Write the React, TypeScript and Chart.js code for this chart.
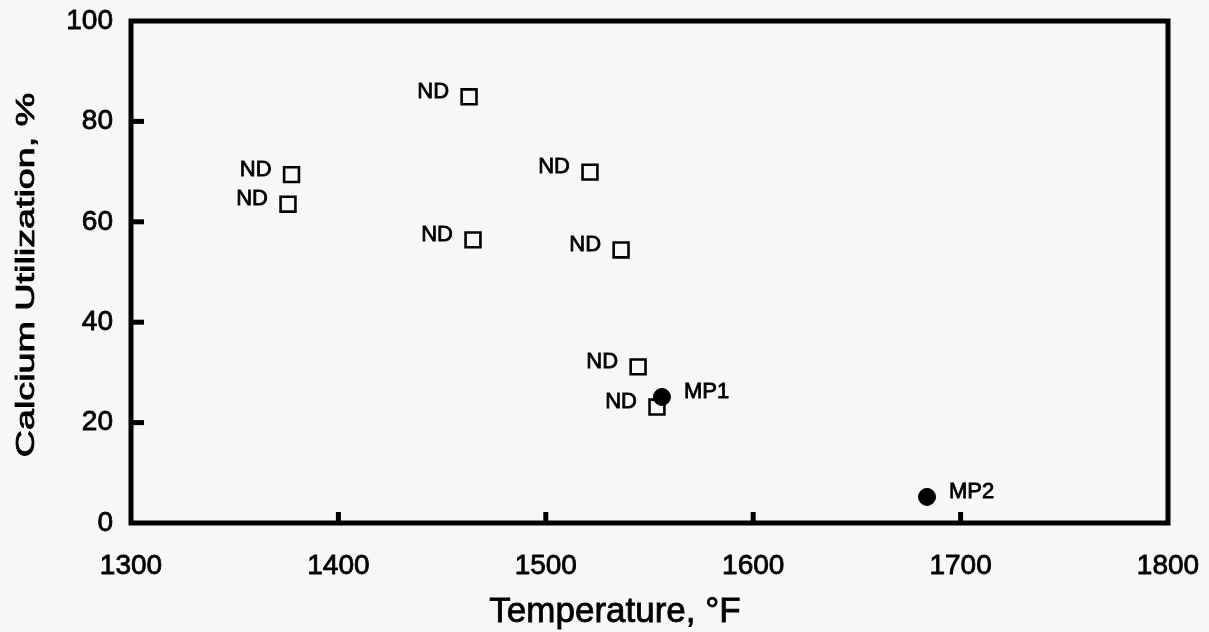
import React, { useEffect, useRef } from "react";
import { Chart, registerables } from "chart.js";

Chart.register(...registerables);

// ---- Data ----
const ndTemps = [1377.4, 1375.7, 1463, 1521.3, 1464.9, 1536.3, 1544.5, 1553.6];
const ndUtil = [69.4, 63.5, 84.9, 69.9, 56.4, 54.4, 31.1, 23.1];
const ndLabels = ["ND", "ND", "ND", "ND", "ND", "ND", "ND", "ND"];
const mpTemps = [1556, 1683.8];
const mpUtil = [25.1, 5.2];
const mpLabels = ["MP1", "MP2"];
const xTicks = [1300, 1400, 1500, 1600, 1700, 1800];
const yTicks = [0, 20, 40, 60, 80, 100];
const xTitle = "Temperature, \u00B0F";
const yTitle = "Calcium Utilization, %";

const FONT = '"Liberation Sans", Arial, Helvetica, sans-serif';
const BG = "#f7f7f7";
const TEXT_STROKE = 0.8;

function heavyText(ctx: any, text: string, x: number, y: number) {
  ctx.fillText(text, x, y);
  ctx.lineWidth = TEXT_STROKE;
  ctx.strokeStyle = "#000";
  ctx.strokeText(text, x, y);
}

const framePlugin = {
  id: "frameAndText",
  beforeDraw(chart: any) {
    const ctx = chart.ctx;
    ctx.save();
    ctx.fillStyle = BG;
    ctx.fillRect(0, 0, chart.width, chart.height);
    ctx.restore();
  },
  beforeDatasetsDraw(chart: any) {
    const { ctx, chartArea } = chart;
    const { left, right, top, bottom } = chartArea;
    const xs = chart.scales.x;
    const ys = chart.scales.y;
    ctx.save();
    ctx.strokeStyle = "#000";
    ctx.lineWidth = 5;
    ctx.lineJoin = "miter";
    ctx.strokeRect(left, top, right - left, bottom - top);
    // inward ticks
    ctx.lineWidth = 5;
    ctx.lineCap = "butt";
    yTicks.slice(1, -1).forEach((v) => {
      const py = ys.getPixelForValue(v);
      ctx.beginPath();
      ctx.moveTo(left, py);
      ctx.lineTo(left + 13, py);
      ctx.stroke();
    });
    xTicks.slice(1, -1).forEach((v) => {
      const px = xs.getPixelForValue(v);
      ctx.beginPath();
      ctx.moveTo(px, bottom);
      ctx.lineTo(px, bottom - 11);
      ctx.stroke();
    });
    // axis titles
    ctx.fillStyle = "#000";
    ctx.font = `35px ${FONT}`;
    ctx.textAlign = "center";
    ctx.textBaseline = "alphabetic";
    heavyText(ctx, xTitle, 615, 622);
    ctx.save();
    ctx.translate(34, 275);
    ctx.rotate(-Math.PI / 2);
    ctx.scale(1.45, 1);
    ctx.font = `26px ${FONT}`;
    heavyText(ctx, yTitle, 0, 0);
    ctx.restore();
    ctx.restore();
  },
  afterDatasetsDraw(chart: any) {
    const ctx = chart.ctx;
    ctx.save();
    ctx.fillStyle = "#000";
    ctx.font = `22px ${FONT}`;
    ctx.textBaseline = "middle";
    const ndMeta = chart.getDatasetMeta(1);
    ndMeta.data.forEach((pt: any, i: number) => {
      ctx.textAlign = "right";
      heavyText(ctx, ndLabels[i], pt.x - 20, pt.y - 5);
    });
    const mpMeta = chart.getDatasetMeta(0);
    mpMeta.data.forEach((pt: any, i: number) => {
      ctx.textAlign = "left";
      heavyText(ctx, mpLabels[i], pt.x + 22, pt.y - 5);
    });
    ctx.restore();
  },
};

export default function App() {
  const canvasRef = useRef<HTMLCanvasElement | null>(null);

  useEffect(() => {
    document.body.style.margin = "0";
    document.body.style.background = BG;
    const canvas = canvasRef.current;
    if (!canvas) return;
    const chart = new Chart(canvas, {
      type: "scatter",
      data: {
        datasets: [
          {
            label: "MP",
            data: mpTemps.map((t, i) => ({ x: t, y: mpUtil[i] })),
            pointStyle: "circle",
            pointRadius: 8.5,
            pointBackgroundColor: "#000",
            pointBorderColor: "#000",
            pointBorderWidth: 1,
            order: 0,
          },
          {
            label: "ND",
            data: ndTemps.map((t, i) => ({ x: t, y: ndUtil[i] })),
            pointStyle: "rect",
            pointRadius: 10.5,
            pointBackgroundColor: BG,
            pointBorderColor: "#000",
            pointBorderWidth: 2.6,
            order: 1,
          },
        ],
      },
      options: {
        responsive: false,
        animation: false,
        events: [],
        layout: { padding: { left: 0, top: 21, right: 1209 - 1168, bottom: 0 } },
        plugins: {
          legend: { display: false },
          tooltip: { enabled: false },
          title: { display: false },
        },
        scales: {
          x: {
            type: "linear",
            min: 1300,
            max: 1800,
            afterBuildTicks: (s: any) => {
              s.ticks = xTicks.map((v) => ({ value: v }));
            },
            afterFit: (s: any) => {
              s.height = 632 - 523;
              s.paddingLeft = 0;
              s.paddingRight = 0;
              s.paddingTop = 0;
              s.paddingBottom = 0;
            },
            grid: { display: false, drawTicks: false },
            border: { display: false },
            ticks: {
              padding: 26,
              color: "#000",
              textStrokeColor: "#000",
              textStrokeWidth: TEXT_STROKE,
              font: { family: FONT, size: 28 },
              maxRotation: 0,
              callback: (v: any) => String(v),
            },
          },
          y: {
            type: "linear",
            min: 0,
            max: 100,
            afterBuildTicks: (s: any) => {
              s.ticks = yTicks.map((v) => ({ value: v }));
            },
            afterFit: (s: any) => {
              s.width = 131;
              s.paddingLeft = 0;
              s.paddingRight = 0;
              s.paddingTop = 0;
              s.paddingBottom = 0;
            },
            grid: { display: false, drawTicks: false },
            border: { display: false },
            ticks: {
              padding: 18,
              color: "#000",
              textStrokeColor: "#000",
              textStrokeWidth: TEXT_STROKE,
              font: { family: FONT, size: 28 },
              callback: (v: any) => String(v),
            },
          },
        },
      },
      plugins: [framePlugin],
    } as any);
    return () => chart.destroy();
  }, []);

  return (
    <div style={{ position: "fixed", left: 0, top: 0, width: 1209, height: 632, background: BG }}>
      <canvas ref={canvasRef} width={1209} height={632} style={{ width: 1209, height: 632, display: "block" }} />
    </div>
  );
}
